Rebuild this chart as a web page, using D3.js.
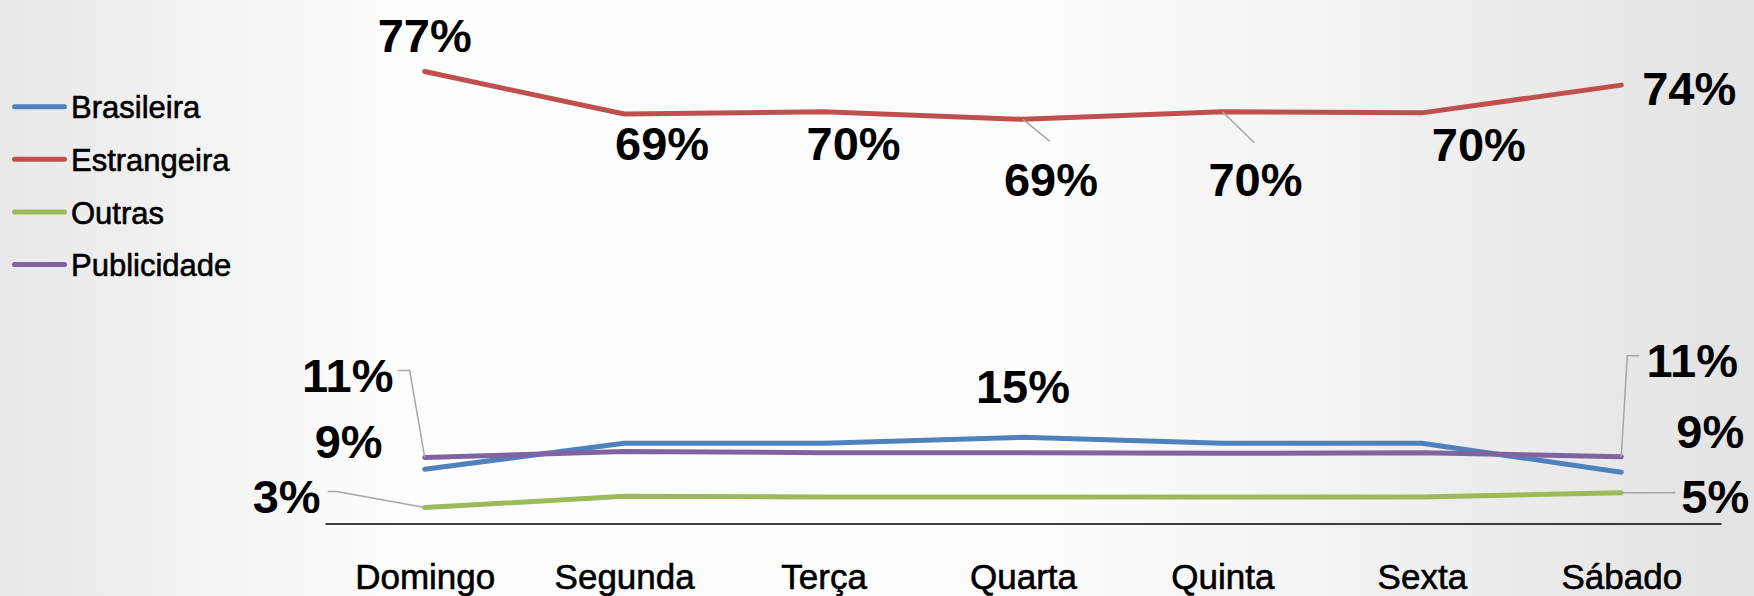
<!DOCTYPE html>
<html>
<head>
<meta charset="utf-8">
<script src="https://cdnjs.cloudflare.com/ajax/libs/d3/7.8.5/d3.min.js"></script>
<style>
    html, body { margin: 0; padding: 0; overflow: hidden; }
    .label { font-family: "Liberation Sans", Arial, sans-serif; font-weight: bold; font-size: 47px; fill: #000; }
    .legend-text { font-family: "Liberation Sans", Arial, sans-serif; font-size: 31px; fill: #000; stroke: #000; stroke-width: 0.6px; }
    .x.axis text { font-family: "Liberation Sans", Arial, sans-serif; font-size: 35px; fill: #000; stroke: #000; stroke-width: 0.6px; }
</style>
</head>
<body>
<div id="chart-area"></div>
<script>
// Days of the week (x categories)
var days = ["Domingo", "Segunda", "Terça", "Quarta", "Quinta", "Sexta", "Sábado"];

// Series values, in percent
var brasileira  = [9.2, 13.6, 13.6, 14.6, 13.6, 13.6, 8.7];
var estrangeira = [76.6, 69.4, 69.8, 68.5, 69.8, 69.6, 74.3];
var outras      = [2.7, 4.6, 4.5, 4.5, 4.5, 4.5, 5.2];
var publicidade = [11.2, 12.2, 12.0, 12.0, 11.9, 12.0, 11.3];

var seriesNames = ["Brasileira", "Estrangeira", "Outras", "Publicidade"];
var seriesValues = [brasileira, estrangeira, outras, publicidade];
var seriesColor = d3.scaleOrdinal()
    .domain(seriesNames)
    .range(["#4f81bd", "#c0504d", "#9bbb59", "#8064a2"]);

// Which points get a data label (series, day index) and where the label
// centre sits relative to its point; lead = leader line points, relative too
var labelPlacement = [
    { s: "Estrangeira", i: 0, dx: 0,    dy: -20 },
    { s: "Estrangeira", i: 1, dx: 38,   dy: 46 },
    { s: "Estrangeira", i: 2, dx: 30,   dy: 48 },
    { s: "Estrangeira", i: 3, dx: 28,   dy: 77,  lead: [[27, 22]] },
    { s: "Estrangeira", i: 4, dx: 33,   dy: 84,  lead: [[32, 31]] },
    { s: "Estrangeira", i: 5, dx: 57,   dy: 48 },
    { s: "Estrangeira", i: 6, dx: 68,   dy: 20 },
    { s: "Brasileira",  i: 0, dx: -76,  dy: -11 },
    { s: "Brasileira",  i: 3, dx: 0,    dy: -34 },
    { s: "Brasileira",  i: 6, dx: 89,   dy: -24 },
    { s: "Publicidade", i: 0, dx: -77,  dy: -65, lead: [[-15, -87], [-27, -87]] },
    { s: "Publicidade", i: 6, dx: 71,   dy: -80, lead: [[6, -101], [18, -101]] },
    { s: "Outras",      i: 0, dx: -138, dy: 5,   lead: [[-88, -16], [-97, -16]] },
    { s: "Outras",      i: 6, dx: 94,   dy: 20,  lead: [[54, 0]] }
];

function lineChart(){
    var width = 1754, height = 596;

    var svg = d3.select("#chart-area")
        .append("svg")
            .attr("width", width)
            .attr("height", height);

    // background gradient, grey at the sides, white in the middle
    var grad = svg.append("defs").append("linearGradient")
        .attr("id", "bg")
        .attr("x1", "0%").attr("x2", "100%")
        .attr("y1", "0%").attr("y2", "0%");
    grad.append("stop").attr("offset", "0%").attr("stop-color", "#e8e8e8");
    grad.append("stop").attr("offset", "22%").attr("stop-color", "#fdfdfd");
    grad.append("stop").attr("offset", "60%").attr("stop-color", "#fdfdfd");
    grad.append("stop").attr("offset", "100%").attr("stop-color", "#e3e3e3");

    svg.append("rect")
        .attr("width", width)
        .attr("height", height)
        .attr("fill", "url(#bg)");

    // X Scale
    var x = d3.scalePoint()
        .domain(days)
        .range([325, 1721])
        .padding(0.5);

    // Y Scale
    var y = d3.scaleLinear()
        .domain([0, 80])
        .range([523.5, 51.5]);

    // X Axis
    var xAxisGroup = svg.append("g")
        .attr("class", "x axis")
        .attr("transform", "translate(0," + y(0) + ")")
        .call(d3.axisBottom(x).tickSize(0).tickSizeOuter(0));

    xAxisGroup.select(".domain")
        .attr("stroke", "#000")
        .attr("stroke-width", 1.5);

    xAxisGroup.selectAll("text")
        .attr("dy", null)
        .attr("y", 65.5);

    // Lines
    var line = d3.line()
        .x(function(d, i){ return x(days[i]); })
        .y(function(d){ return y(d); });

    seriesNames.forEach(function(name, k){
        svg.append("path")
            .datum(seriesValues[k])
            .attr("fill", "none")
            .attr("stroke", seriesColor(name))
            .attr("stroke-width", 5)
            .attr("stroke-linejoin", "round")
            .attr("stroke-linecap", "round")
            .attr("d", line);
    });

    // Data labels with leader lines
    labelPlacement.forEach(function(p){
        var values = seriesValues[seriesNames.indexOf(p.s)];
        var px = x(days[p.i]), py = y(values[p.i]);

        if (p.lead){
            var pts = [[px, py]].concat(p.lead.map(function(l){ return [px + l[0], py + l[1]]; }));
            svg.append("path")
                .attr("d", d3.line()(pts))
                .attr("fill", "none")
                .attr("stroke", "#a6a6a6")
                .attr("stroke-width", 1.5);
        }

        svg.append("text")
            .attr("class", "label")
            .attr("x", px + p.dx)
            .attr("y", py + p.dy)
            .attr("text-anchor", "middle")
            .text(d3.format(".0f")(values[p.i]) + "%");
    });

    // Legend
    var legend = svg.append("g")
        .attr("transform", "translate(12,106.7)");

    seriesNames.forEach(function(name, i){
        var row = legend.append("g")
            .attr("transform", "translate(0," + (i * 52.6) + ")");

        row.append("line")
            .attr("x1", 2.5)
            .attr("x2", 52.5)
            .attr("stroke", seriesColor(name))
            .attr("stroke-width", 5)
            .attr("stroke-linecap", "round");

        row.append("text")
            .attr("class", "legend-text")
            .attr("x", 59)
            .attr("y", 11.6)
            .text(name);
    });
}

lineChart();
</script>
</body>
</html>
